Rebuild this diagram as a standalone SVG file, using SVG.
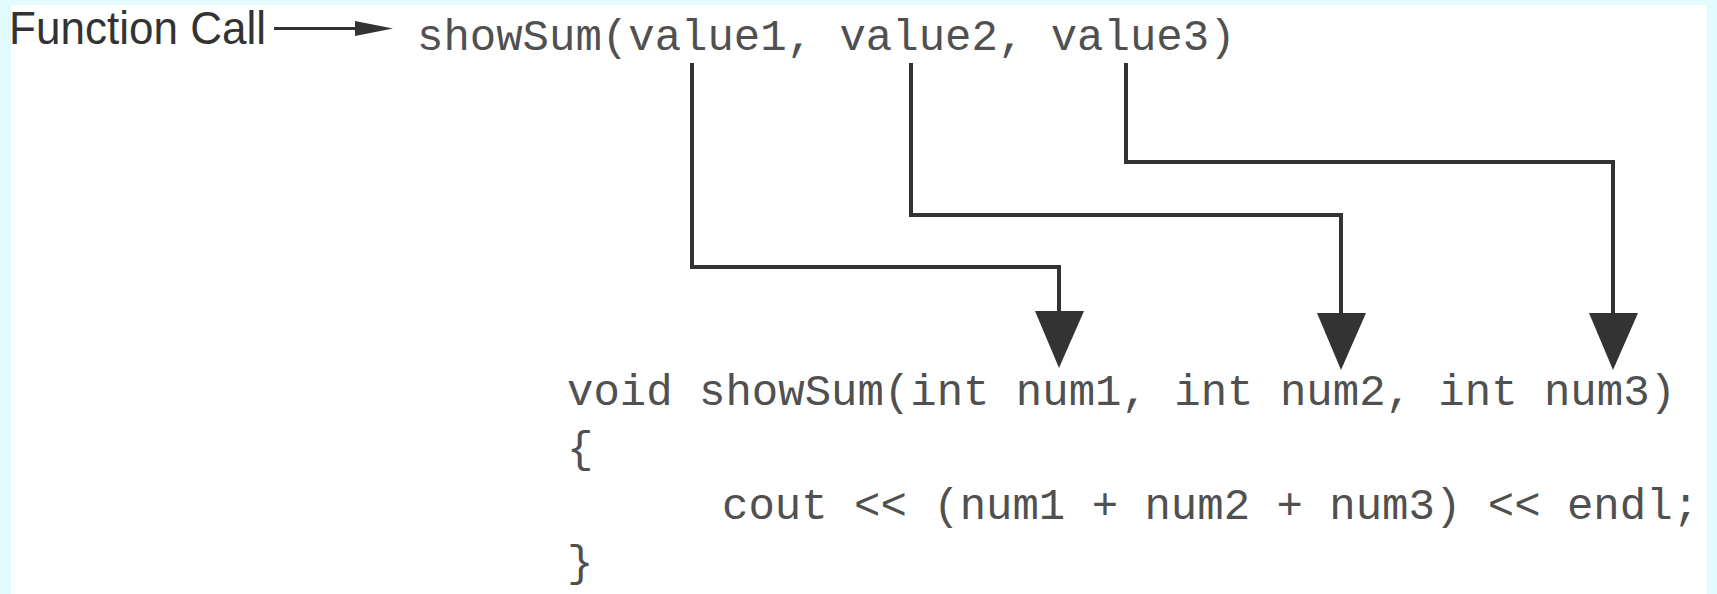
<svg xmlns="http://www.w3.org/2000/svg" width="1717" height="594" viewBox="0 0 1717 594">
<defs>
<style>
.code{font-family:"Liberation Mono","Courier New",monospace;font-size:44px;fill:#505050;}
.label{font-family:"Liberation Sans",Arial,sans-serif;font-size:46px;fill:#333;}
.wire{fill:none;stroke:#333;stroke-width:4;}
.head{fill:#333;}
</style>
</defs>
<rect x="0" y="0" width="1717" height="594" fill="#e2fbff"/>
<rect x="11" y="5" width="1696" height="589" fill="#ffffff"/>
<g id="function-call-label">
<text class="label" x="9" y="44" textLength="257" lengthAdjust="spacingAndGlyphs">Function Call</text>
</g>
<g id="call">
<text class="code" x="417" y="50">showSum(value1, value2, value3)</text>
</g>
<g id="definition">
<text class="code" x="567" y="405">void showSum(int num1, int num2, int num3)</text>
<text class="code" x="567" y="462">{</text>
<text class="code" x="722" y="519">cout &lt;&lt; (num1 + num2 + num3) &lt;&lt; endl;</text>
<text class="code" x="567" y="576">}</text>
</g>
<g id="connectors">
<line class="wire" x1="274" y1="28.5" x2="362" y2="28.5" style="stroke-width:3"/>
<polygon class="head" points="355,21 393,28.5 355,36"/>
<polyline class="wire" points="692,63 692,267 1059,267 1059,314"/>
<polygon class="head" points="1035,311 1084,311 1059,368"/>
<polyline class="wire" points="911,63 911,215 1341,215 1341,316"/>
<polygon class="head" points="1317,313 1366,313 1341,370"/>
<polyline class="wire" points="1126,63 1126,162 1613,162 1613,316"/>
<polygon class="head" points="1589,313 1638,313 1613,370"/>
</g>
</svg>
